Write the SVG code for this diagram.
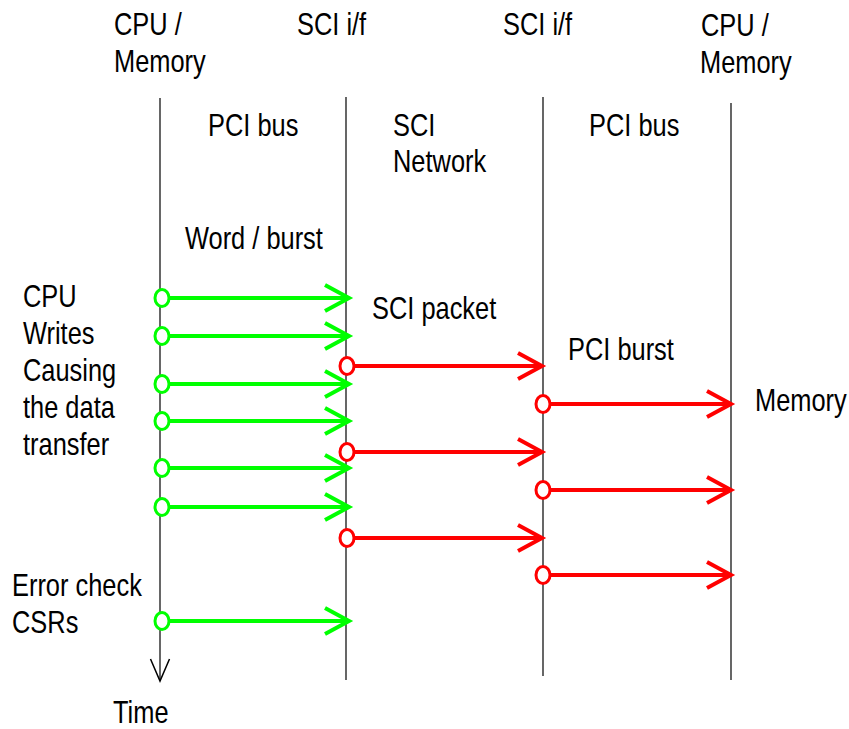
<svg xmlns="http://www.w3.org/2000/svg" width="849" height="729" viewBox="0 0 849 729">
<style>
text{font-family:"Liberation Sans",Arial,sans-serif;font-size:31px;fill:#000}
.life{stroke:#000;stroke-width:1.2;fill:none}
.g{stroke:#00ff00;stroke-width:4;fill:none}
.r{stroke:#ff0000;stroke-width:4;fill:none}
.gc{stroke:#00ff00;stroke-width:3;fill:#fff}
.rc{stroke:#ff0000;stroke-width:3;fill:#fff}
</style>
<defs>
<marker id="ag" markerUnits="userSpaceOnUse" viewBox="-28 -16 32 32" markerWidth="32" markerHeight="32" refX="0" refY="0" orient="auto" overflow="visible"><path d="M-24,-13 L0,0 L-24,13" fill="none" stroke="#00ff00" stroke-width="4"/></marker>
<marker id="ar" markerUnits="userSpaceOnUse" viewBox="-28 -16 32 32" markerWidth="32" markerHeight="32" refX="0" refY="0" orient="auto" overflow="visible"><path d="M-24,-13 L0,0 L-24,13" fill="none" stroke="#ff0000" stroke-width="4"/></marker>
<marker id="at" markerUnits="userSpaceOnUse" viewBox="-24 -12 26 24" markerWidth="26" markerHeight="24" refX="0" refY="0" orient="auto" overflow="visible"><path d="M-22,-9.5 L0,0 L-22,9.5" fill="none" stroke="#000" stroke-width="1.5"/></marker>
</defs>

<g id="cpu-left">
<text transform="translate(114,35) scale(0.82,1)">CPU /</text>
<text transform="translate(114,72) scale(0.82,1)">Memory</text>
<line class="life" x1="160" y1="98" x2="160" y2="681" marker-end="url(#at)"/>
<text transform="translate(113,723) scale(0.82,1)">Time</text>
</g>
<g id="sci-if-left">
<text transform="translate(297,35) scale(0.82,1)">SCI i/f</text>
<line class="life" x1="346" y1="97" x2="346" y2="680"/>
</g>
<g id="sci-if-right">
<text transform="translate(503,35) scale(0.82,1)">SCI i/f</text>
<line class="life" x1="543" y1="97" x2="543" y2="676"/>
</g>
<g id="cpu-right">
<text transform="translate(701,36) scale(0.82,1)">CPU /</text>
<text transform="translate(700,73) scale(0.82,1)">Memory</text>
<line class="life" x1="731" y1="103" x2="731" y2="680"/>
</g>

<g id="labels">
<text transform="translate(208,136) scale(0.82,1)">PCI bus</text>
<text transform="translate(393,136) scale(0.82,1)">SCI</text>
<text transform="translate(393,172) scale(0.82,1)">Network</text>
<text transform="translate(589,136) scale(0.82,1)">PCI bus</text>
<text transform="translate(185,249) scale(0.82,1)">Word / burst</text>
<text transform="translate(372,319) scale(0.82,1)">SCI packet</text>
<text transform="translate(568,360) scale(0.82,1)">PCI burst</text>
<text transform="translate(755,411) scale(0.82,1)">Memory</text>
<text transform="translate(23,307) scale(0.82,1)">CPU</text>
<text transform="translate(23,344) scale(0.82,1)">Writes</text>
<text transform="translate(23,381) scale(0.82,1)">Causing</text>
<text transform="translate(23,418) scale(0.82,1)">the data</text>
<text transform="translate(23,455) scale(0.82,1)">transfer</text>
<text transform="translate(12,596) scale(0.82,1)">Error check</text>
<text transform="translate(12,633) scale(0.82,1)">CSRs</text>
</g>

<g id="connectors">
<line class="g" x1="170" y1="298" x2="349" y2="298" marker-end="url(#ag)"/>
<line class="g" x1="170" y1="336" x2="349" y2="336" marker-end="url(#ag)"/>
<line class="g" x1="170" y1="384" x2="349" y2="384" marker-end="url(#ag)"/>
<line class="g" x1="170" y1="421" x2="349" y2="421" marker-end="url(#ag)"/>
<line class="g" x1="170" y1="468" x2="349" y2="468" marker-end="url(#ag)"/>
<line class="g" x1="170" y1="507" x2="349" y2="507" marker-end="url(#ag)"/>
<line class="g" x1="170" y1="621" x2="349" y2="621" marker-end="url(#ag)"/>
<ellipse class="gc" cx="162" cy="298" rx="7" ry="8.5"/>
<ellipse class="gc" cx="162" cy="336" rx="7" ry="8.5"/>
<ellipse class="gc" cx="162" cy="384" rx="7" ry="8.5"/>
<ellipse class="gc" cx="162" cy="421" rx="7" ry="8.5"/>
<ellipse class="gc" cx="162" cy="468" rx="7" ry="8.5"/>
<ellipse class="gc" cx="162" cy="507" rx="7" ry="8.5"/>
<ellipse class="gc" cx="162" cy="621" rx="7" ry="8.5"/>

<line class="r" x1="355" y1="366" x2="542" y2="366" marker-end="url(#ar)"/>
<line class="r" x1="355" y1="452" x2="542" y2="452" marker-end="url(#ar)"/>
<line class="r" x1="355" y1="538" x2="542" y2="538" marker-end="url(#ar)"/>
<ellipse class="rc" cx="347" cy="366" rx="7" ry="8.5"/>
<ellipse class="rc" cx="347" cy="452" rx="7" ry="8.5"/>
<ellipse class="rc" cx="347" cy="538" rx="7" ry="8.5"/>

<line class="r" x1="551" y1="404" x2="731" y2="404" marker-end="url(#ar)"/>
<line class="r" x1="551" y1="490" x2="731" y2="490" marker-end="url(#ar)"/>
<line class="r" x1="551" y1="575" x2="731" y2="575" marker-end="url(#ar)"/>
<ellipse class="rc" cx="543" cy="404" rx="7" ry="8.5"/>
<ellipse class="rc" cx="543" cy="490" rx="7" ry="8.5"/>
<ellipse class="rc" cx="543" cy="575" rx="7" ry="8.5"/>
</g>
</svg>
